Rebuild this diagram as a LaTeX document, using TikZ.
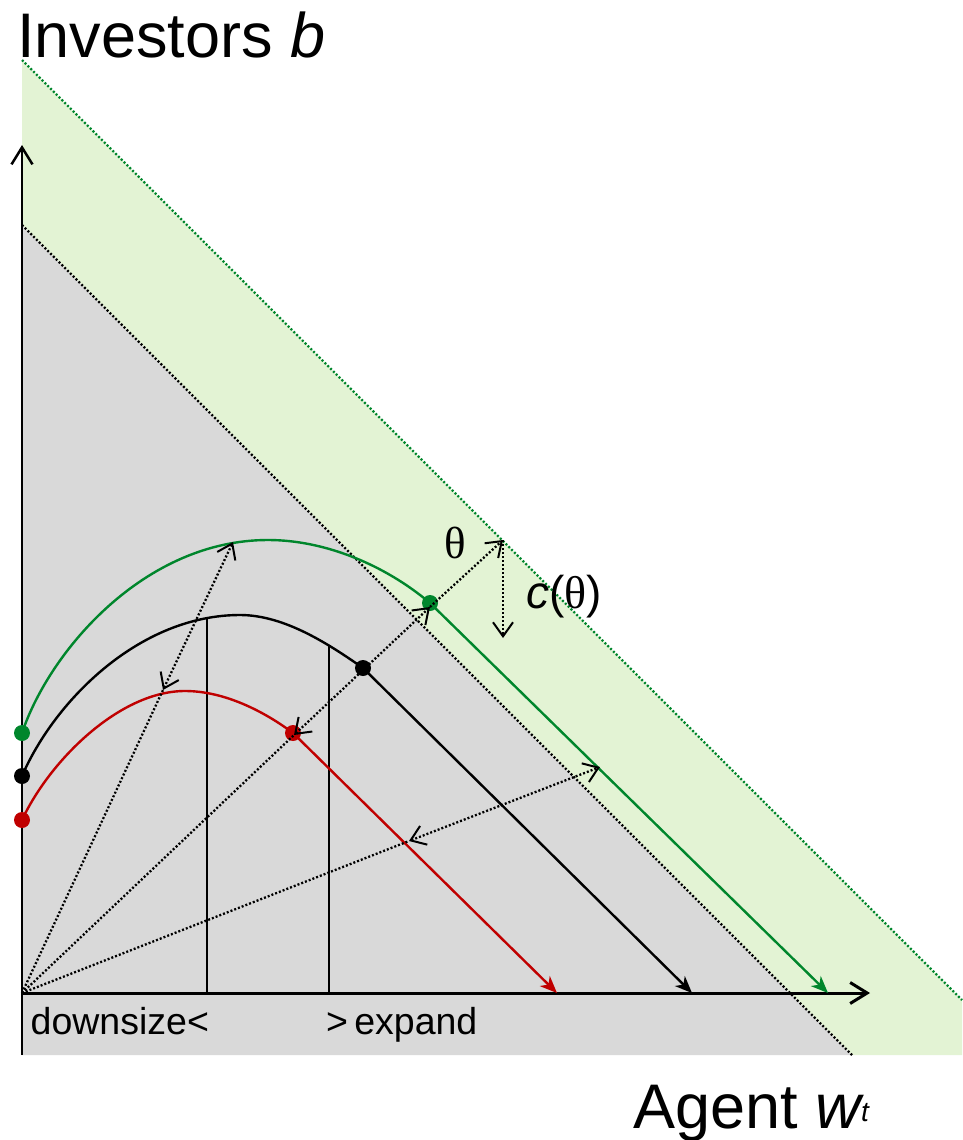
\documentclass[tikz,border=0pt]{standalone}
\usepackage{fontspec}
\setmainfont{Liberation Sans}
\newfontfamily\serifgr{Liberation Serif}
\usetikzlibrary{arrows.meta}
\definecolor{bandgreen}{RGB}{227,243,212}
\definecolor{areagray}{RGB}{217,217,217}
\definecolor{curvegreen}{RGB}{0,134,44}
\definecolor{curvered}{RGB}{192,0,0}
\begin{document}
\begin{tikzpicture}[x=1pt,y=-1pt,
  axisline/.style={line width=2.5pt,-{Straight Barb[length=17pt,width=21pt]}},
  dotline/.style={line width=2.3pt,dash pattern=on 2pt off 2pt},
  dotarrow/.style={dotline,>={Straight Barb[length=14pt,width=20pt,line width=2pt]}},
  curve/.style={line width=2.4pt,-{Stealth[length=17pt,width=14pt,inset=5pt]}},
  dotmark/.style={circle,inner sep=0pt,minimum size=16pt},
  label/.style={anchor=base west,inner sep=0pt},
  bigfont/.style={font=\fontsize{63}{63}\selectfont},
  midfont/.style={font=\fontsize{37.5}{37.5}\selectfont}]
\useasboundingbox (0,0) rectangle (962,1140);
% regions
\fill[bandgreen] (22,60) -- (962,1000) -- (962,1055) -- (852,1055) -- (22,225) -- cycle;
\fill[areagray] (22,225) -- (852,1055) -- (22,1055) -- cycle;
% boundary lines
\coordinate (gtop) at (22,60);
\coordinate (gbot) at (962,1000);
\coordinate (btop) at (22,225);
\coordinate (bbot) at (852,1055);
\draw[dotline,curvegreen] (gtop) -- (gbot);
\draw[dotline,black] (btop) -- (bbot);
% axes
\coordinate (O) at (22,993);
\coordinate (ybot) at (22,1055);
\coordinate (ytip) at (22,145);
\coordinate (xtip) at (870,993);
\draw[axisline] (ybot) -- (ytip);
\draw[axisline,line width=3pt] (O) -- (xtip);
% vertical lines
\coordinate (v1t) at (207,617);
\coordinate (v1b) at (207,993);
\coordinate (v2t) at (329,646);
\coordinate (v2b) at (329,993);
\draw[line width=2pt] (v1t) -- (v1b);
\draw[line width=2pt] (v2t) -- (v2b);
% dots
\node[dotmark,fill=curvegreen] (g0) at (22,733) {};
\node[dotmark,fill=black] (k0) at (22,776) {};
\node[dotmark,fill=curvered] (r0) at (22,820) {};
\coordinate (gend) at (828,993);
\coordinate (kend) at (692,993);
\coordinate (rend) at (557,993);
% curves
\draw[curve,curvegreen] (g0.center) .. controls (50,650) and (145,540) .. (268,540)
  .. controls (325,540) and (385,565) .. (430,603) -- (gend);
\draw[curve,black] (k0.center) .. controls (55,700) and (140,615) .. (240,615)
  .. controls (285,615) and (330,645) .. (363,668) -- (kend);
\draw[curve,curvered] (r0.center) .. controls (50,760) and (120,691) .. (185,691)
  .. controls (225,691) and (265,712) .. (293,733) -- (rend);
\node[dotmark,fill=curvegreen] (gd) at (430,603) {};
\node[dotmark,fill=black] (kd) at (363,668) {};
\node[dotmark,fill=curvered] (rd) at (293,733) {};
% dotted rays
\coordinate (r1) at (163,690);
\coordinate (g1) at (233,542);
\draw[dotarrow] (O) -- (r1);
\draw[dotarrow,<->] (r1) -- (g1);
\coordinate (r2) at (294,735);
\coordinate (g2) at (430,607);
\coordinate (t2) at (503,540);
\coordinate (c2) at (503,638);
\draw[dotarrow] (O) -- (r2);
\draw[dotarrow,<->] (r2) -- (g2);
\draw[dotarrow,->] (g2) -- (t2);
\draw[dotarrow,->] (t2) -- (c2);
\coordinate (r3) at (409,841);
\coordinate (g3) at (600,767);
\draw[dotarrow] (O) -- (r3);
\draw[dotarrow,<->] (r3) -- (g3);
% texts
\node[label,bigfont] (ylab) at (17,57) {Investors \textit{b}};
\node[label,bigfont] (xlab) at (633,1128) {Agent \textit{w}\kern-3pt\raisebox{7pt}{\fontsize{28}{28}\selectfont\itshape t}};
\node[label,font=\serifgr\fontsize{45}{45}\selectfont] (theta) at (444,558) {θ};
\node[label,font=\fontsize{46}{46}\selectfont] (ctheta) at (526,608) {\textit{c}({\serifgr θ})};
\node[label,midfont] (down) at (30.5,1034) {downsize<};
\node[label,midfont] (expand) at (326,1034) {>\,expand};
\end{tikzpicture}
\end{document}
